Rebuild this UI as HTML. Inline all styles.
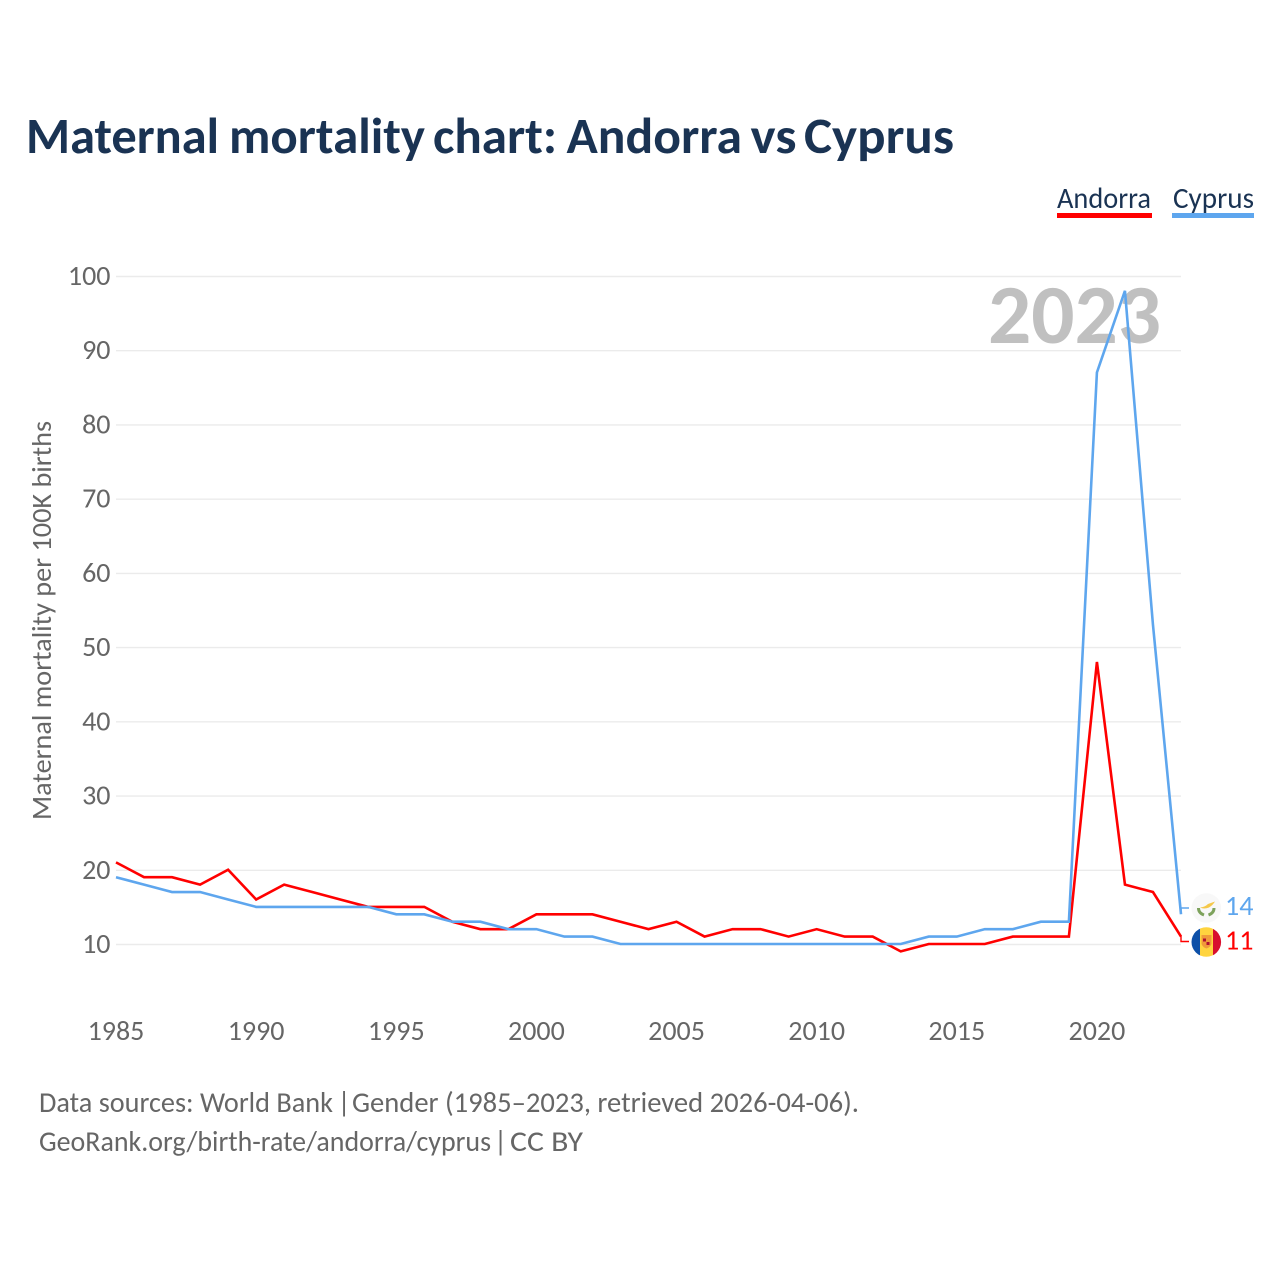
<!DOCTYPE html>
<html>
<head>
<meta charset="utf-8">
<title>Maternal mortality chart: Andorra vs Cyprus</title>
<style>
html,body{margin:0;padding:0;background:#fff;width:1280px;height:1280px;overflow:hidden}
svg{display:block;font-family:Carlito,"Liberation Sans",sans-serif}
</style>
</head>
<body>
<svg id="chart" width="1280" height="1280" viewBox="0 0 1280 1280" xmlns="http://www.w3.org/2000/svg">
  <text y="153" font-size="50.500" font-weight="700" fill="#1a3353"><tspan x="26" textLength="193" lengthAdjust="spacingAndGlyphs">Maternal</tspan> <tspan x="229" textLength="196" lengthAdjust="spacingAndGlyphs">mortality</tspan> <tspan x="433" textLength="124" lengthAdjust="spacingAndGlyphs">chart:</tspan> <tspan x="566.500" textLength="175.500" lengthAdjust="spacingAndGlyphs">Andorra</tspan> <tspan x="750.500" textLength="46" lengthAdjust="spacingAndGlyphs">vs</tspan> <tspan x="804" textLength="150" lengthAdjust="spacingAndGlyphs">Cyprus</tspan></text>

  <g>
    <g>
      <text x="1057" y="208" font-size="29.500" fill="#1a3353" textLength="94" lengthAdjust="spacingAndGlyphs">Andorra</text>
      <rect x="1057" y="213" width="95" height="5" fill="#ff0000"/>
    </g>
    <g>
      <text x="1173" y="208" font-size="29.500" fill="#1a3353" textLength="81" lengthAdjust="spacingAndGlyphs">Cyprus</text>
      <rect x="1172" y="213" width="82" height="5" fill="#5ea6ee"/>
    </g>
  </g>

  <g id="grid"></g>
  <g id="yticks"></g>
  <g id="xticks"></g>

  <text transform="translate(51,820) rotate(-90)" font-size="27.500" fill="#666666" textLength="399" lengthAdjust="spacingAndGlyphs">Maternal mortality per 100K births</text>

  <text x="1161" y="343" text-anchor="end" font-size="84" font-weight="700" fill="#c0c0c0" textLength="173" lengthAdjust="spacingAndGlyphs">2023</text>

  <g id="series"></g>

  <path d="M1181 913V908H1189" fill="none" stroke="#5ea6ee" stroke-width="1.4"/>
  <path d="M1181 936V941.500H1189" fill="none" stroke="#ff0000" stroke-width="1.4"/>

  <g>
    <circle cx="1206.300" cy="908" r="14.800" fill="#f8f8f8"/>
    <path d="M1200 907.500 Q1205 907 1208 904 L1215 901.500 Q1213 905 1209 907.500 Q1204 909.500 1200 907.500Z" fill="#f5c84a"/>
    <path d="M1198.500 908 Q1198.500 913 1204 915 M1214 908 Q1214 913 1208.500 915" fill="none" stroke="#7da25c" stroke-width="3"/>
  </g>
  <g>
    <clipPath id="andorra-clip"><circle cx="1206.300" cy="942" r="14.800"/></clipPath>
    <g clip-path="url(#andorra-clip)">
      <rect x="1191" y="927" width="9.500" height="31" fill="#0d50a8"/>
      <rect x="1200" y="927" width="13.500" height="31" fill="#ffd43f"/>
      <rect x="1213" y="927" width="9" height="31" fill="#d80f2e"/>
      <path d="M1201.500 935H1211.500V944Q1210 947.500 1206.500 948.500Q1203 947.500 1201.500 944Z" fill="#f09a3a"/>
      <rect x="1203" y="938.500" width="3" height="3" fill="#b01030"/>
      <rect x="1206.500" y="942" width="3" height="3" fill="#b01030"/>
    </g>
  </g>

  <text x="1225" y="915" font-size="28" fill="#5ea6ee">14</text>
  <text x="1225" y="949.500" font-size="28" fill="#ff0000">11</text>

  <g font-size="28.500" fill="#666666">
    <text x="39" y="1112" textLength="294" lengthAdjust="spacingAndGlyphs">Data sources: World Bank</text>
    <text x="337.500" y="1112">|</text>
    <text x="352" y="1112" textLength="507" lengthAdjust="spacingAndGlyphs">Gender (1985–2023, retrieved 2026-04-06).</text>
    <text x="39" y="1151" textLength="452" lengthAdjust="spacingAndGlyphs">GeoRank.org/birth-rate/andorra/cyprus</text>
    <text x="494" y="1151">|</text>
    <text x="510" y="1151" textLength="73" lengthAdjust="spacingAndGlyphs">CC BY</text>
  </g>
</svg>
<script>
const years = [1985,1986,1987,1988,1989,1990,1991,1992,1993,1994,1995,1996,1997,1998,1999,2000,2001,2002,2003,2004,2005,2006,2007,2008,2009,2010,2011,2012,2013,2014,2015,2016,2017,2018,2019,2020,2021,2022,2023];
const andorra = [21,19,19,18,20,16,18,17,16,15,15,15,13,12,12,14,14,14,13,12,13,11,12,12,11,12,11,11,9,10,10,10,11,11,11,48,18,17,11];
const cyprus = [19,18,17,17,16,15,15,15,15,15,14,14,13,13,12,12,11,11,10,10,10,10,10,10,10,10,10,10,10,11,11,12,12,13,13,87,98,53,14];
const yTickValues = [10,20,30,40,50,60,70,80,90,100];
const xTickValues = [1985,1990,1995,2000,2005,2010,2015,2020];

const NS = 'http://www.w3.org/2000/svg';
const xScale = function (year) { return 116 + (year - 1985) * (1181 - 116) / 38; };
const yScale = function (value) { return 944.500 - (value - 10) * (944.500 - 276.500) / 90; };

const grid = document.getElementById('grid');
const yticks = document.getElementById('yticks');
const xticks = document.getElementById('xticks');
const seriesGroup = document.getElementById('series');

yTickValues.forEach(function (v) {
  const line = document.createElementNS(NS, 'line');
  
  
  line.setAttribute('x1', 116);
  line.setAttribute('x2', 1181);
  line.setAttribute('y1', yScale(v));
  line.setAttribute('y2', yScale(v));
  line.setAttribute('stroke', '#ebebeb');
  line.setAttribute('stroke-width', '1.4');
  grid.appendChild(line);

  const label = document.createElementNS(NS, 'text');
  
  
  label.setAttribute('x', 110.5);
  label.setAttribute('y', yScale(v) + 8.5);
  label.setAttribute('text-anchor', 'end');
  label.setAttribute('font-size', '28');
  label.setAttribute('fill', '#666666');
  label.textContent = v;
  yticks.appendChild(label);
});

xTickValues.forEach(function (y) {
  const label = document.createElementNS(NS, 'text');
  
  
  label.setAttribute('x', xScale(y));
  label.setAttribute('y', 1040);
  label.setAttribute('text-anchor', 'middle');
  label.setAttribute('font-size', '28');
  label.setAttribute('fill', '#666666');
  label.textContent = y;
  xticks.appendChild(label);
});

function pointsFor(values) {
  return values.map(function (v, i) {
    return xScale(years[i]).toFixed(2) + ',' + (yScale(v) - 0.5).toFixed(2);
  }).join(' ');
}

const andorraLine = document.createElementNS(NS, 'polyline');


andorraLine.setAttribute('points', pointsFor(andorra));
andorraLine.setAttribute('fill', 'none');
andorraLine.setAttribute('stroke', '#ff0000');
andorraLine.setAttribute('stroke-width', '2.6');
seriesGroup.appendChild(andorraLine);

const cyprusLine = document.createElementNS(NS, 'polyline');


cyprusLine.setAttribute('points', pointsFor(cyprus));
cyprusLine.setAttribute('fill', 'none');
cyprusLine.setAttribute('stroke', '#5ea6ee');
cyprusLine.setAttribute('stroke-width', '2.6');
seriesGroup.appendChild(cyprusLine);
</script>
</body>
</html>
